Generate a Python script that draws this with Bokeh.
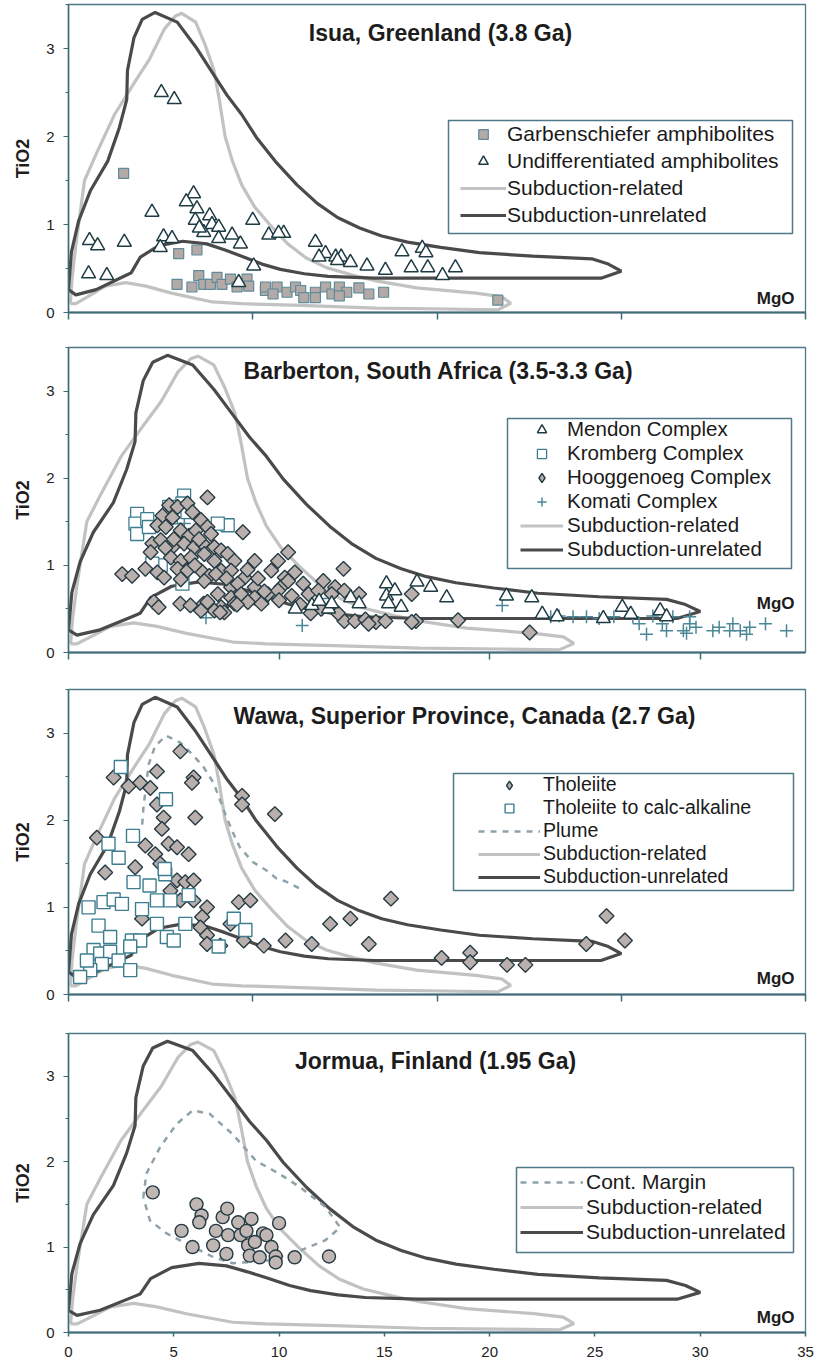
import numpy as np
from bokeh.plotting import figure
from bokeh.layouts import column
from bokeh.models import Range1d, FixedTicker, Label, Legend, LegendItem, BoxAnnotation
from bokeh.embed import file_html
from bokeh.resources import INLINE

FONT = "Liberation Sans"

# ---------------- reference fields (MgO, TiO2) ----------------
unrel_mgo = [0, 0.16, 0.55, 1.18, 2.13, 2.76, 3.16, 3.2, 3.55, 4.0, 4.7, 5.9, 6.9, 7.8, 8.6, 9.4, 10.2, 11.3,
             12.4, 13.5, 14.6, 15.8, 17.0, 18.4, 20.2, 22.3, 25.2, 28.4, 29.3, 30.0, 28.9, 25.0, 20.0, 16.6,
             14.1, 12.8, 11.5, 10.5, 9.4, 8.5, 7.5, 6.2, 4.9, 3.9, 3.4, 3.1, 1.5, 0.4, 0]
unrel_tio2 = [0.26, 0.69, 1.04, 1.38, 1.72, 2.1, 2.42, 2.75, 3.12, 3.33, 3.41, 3.3, 3.02, 2.73, 2.47, 2.25,
              1.99, 1.70, 1.45, 1.24, 1.08, 0.96, 0.87, 0.80, 0.74, 0.68, 0.64, 0.61, 0.55, 0.47, 0.39, 0.39,
              0.39, 0.39, 0.41, 0.44, 0.49, 0.55, 0.64, 0.71, 0.78, 0.81, 0.76, 0.63, 0.45, 0.42, 0.26, 0.2,
              0.26]

rel_mgo = [0.1, 0.2, 0.4, 0.87, 1.5, 2.5, 3.6, 4.4, 5.2, 5.8, 6.15, 6.9, 7.4, 7.9, 8.2, 8.5, 8.9, 9.4, 10.1,
           11.0, 11.9, 12.9, 14.0, 15.5, 16.7, 18.9, 22.1, 23.5, 24.0, 23.3, 20.5, 16.7, 12.6, 9.4, 7.8, 5.6,
           4.2, 3.1, 2.0, 0.89, 0.4, 0.1]
rel_tio2 = [0.1, 0.4, 0.77, 1.5, 1.8, 2.25, 2.62, 2.88, 3.22, 3.37, 3.4, 3.3, 3.05, 2.75, 2.4, 2.0, 1.72, 1.45,
            1.2, 0.98, 0.78, 0.62, 0.51, 0.42, 0.36, 0.28, 0.22, 0.18, 0.105, 0.03, 0.04, 0.05, 0.08, 0.1,
            0.12, 0.22, 0.3, 0.34, 0.3, 0.16, 0.1, 0.1]

plume_mgo = [4.0, 4.07, 4.35, 4.7, 5.3, 6.07, 6.7, 7.3, 7.87, 8.6, 9.05, 9.3, 10.0, 10.77, 11.3, 11.76, 12.7]
plume_tio2 = [1.95, 2.15, 2.64, 2.85, 2.97, 2.89, 2.76, 2.62, 2.43, 2.02, 1.8, 1.69, 1.52, 1.42, 1.33, 1.3, 1.2]

margin_mgo = [3.55, 3.7, 4.35, 5.13, 5.9, 6.7, 7.8, 8.9, 10.0, 11.0, 12.2, 12.9, 12.2, 11.0, 9.4, 7.8, 6.9,
              5.6, 4.66, 3.87, 3.55]
margin_tio2 = [1.58, 1.86, 2.17, 2.44, 2.6, 2.56, 2.32, 2.01, 1.86, 1.7, 1.47, 1.23, 1.08, 0.96, 0.84, 0.81,
               0.88, 1.04, 1.16, 1.31, 1.58]

# ---------------- Isua ----------------
isua_garb_mgo = [2.99, 5.98, 6.97, 5.89, 6.7, 7.07, 7.34, 7.7, 8.06, 8.33, 8.79, 9.15, 9.69, 9.78, 10.69, 11.32,
                 11.86, 12.32, 12.6, 12.77, 13.4, 13.4, 13.95, 14.3, 14.7, 15.1, 15.76, 16.3, 17.1, 10.69, 11.1,
                 14.7, 23.3]
isua_garb_tio2 = [1.58, 0.67, 0.71, 0.32, 0.29, 0.42, 0.32, 0.32, 0.40, 0.32, 0.38, 0.29, 0.38, 0.30, 0.25, 0.29,
                  0.23, 0.29, 0.25, 0.17, 0.23, 0.17, 0.29, 0.21, 0.29, 0.23, 0.28, 0.21, 0.23, 0.29, 0.21,
                  0.19, 0.14]
isua_und_mgo = [5.04, 5.74, 6.79, 6.39, 6.97, 4.53, 7.66, 6.88, 7.79, 8.15, 10.0, 7.34, 8.88, 8.15, 9.33, 10.87,
                11.68, 5.16, 5.62, 4.98, 1.14, 1.58, 3.03, 1.09, 2.08, 9.24, 10.05, 13.4, 13.95, 14.5, 14.8,
                13.6, 14.6, 15.3, 16.2, 17.2, 18.1, 19.2, 19.4, 18.6, 19.5, 20.3, 21.0, 11.4, 7.1]
isua_und_tio2 = [2.50, 2.42, 1.35, 1.26, 1.18, 1.14, 1.10, 1.05, 1.00, 0.97, 1.05, 0.91, 0.88, 0.84, 0.78, 0.88,
                 0.90, 0.86, 0.84, 0.74, 0.82, 0.76, 0.80, 0.44, 0.42, 0.34, 0.53, 0.80, 0.67, 0.63, 0.63,
                 0.63, 0.59, 0.57, 0.53, 0.48, 0.69, 0.73, 0.68, 0.51, 0.51, 0.42, 0.51, 0.90, 0.96]

# ---------------- Barberton ----------------
mendon_mgo = [10.77, 11.56, 12.35, 13.4, 13.8, 15.1, 15.1, 15.2, 15.5, 15.8, 16.55, 17.2, 17.96, 20.8, 22.0,
              22.5, 23.2, 25.4, 26.3, 26.7, 28.1, 28.4, 11.9, 12.5]
mendon_tio2 = [0.50, 0.54, 0.50, 0.63, 0.56, 0.79, 0.65, 0.56, 0.71, 0.52, 0.81, 0.75, 0.63, 0.65, 0.63,
               0.44, 0.41, 0.39, 0.52, 0.44, 0.48, 0.41, 0.59, 0.56]
kromberg_mgo = [3.26, 3.18, 3.26, 3.74, 3.82, 4.78, 5.49, 5.41, 5.65, 7.56, 7.09, 4.38, 3.98, 5.41, 4.86]
kromberg_tio2 = [1.59, 1.48, 1.36, 1.53, 1.44, 1.67, 1.80, 1.71, 1.61, 1.46, 1.48, 1.0, 1.02, 0.79, 1.55]
hoog_mgo = [6.6, 4.78, 5.18, 5.65, 4.46, 4.94, 5.89, 6.29, 6.6, 8.28, 4.22, 4.62, 5.33, 5.73, 6.05, 6.77,
            3.98, 4.38, 4.94, 5.49, 5.97, 6.37, 6.93, 7.25, 3.9, 4.86, 5.33, 5.81, 6.45, 6.93, 7.56, 7.88,
            8.84, 9.95, 10.43, 2.55, 3.02, 3.65, 4.22, 4.54, 5.18, 5.65, 6.29, 6.69, 7.25, 7.72, 8.36, 9.63,
            10.27, 10.75, 13.06, 5.33, 6.45, 7.72, 8.04, 8.84, 10.1, 10.43, 11.15, 12.1, 12.66, 7.09, 7.72,
            8.2, 8.84, 9.47, 9.95, 10.6, 11.4, 11.86, 12.5, 13.1, 13.8, 4.05, 4.28, 5.31, 5.79, 6.42, 6.6,
            7.25, 7.88, 8.52, 9.16, 6.93, 7.4, 7.2, 6.29, 13.1, 13.6, 14.1, 14.6, 15.05, 14.25, 16.5, 16.3,
            16.3, 18.5, 21.9, 6.0, 5.0, 4.6, 6.2, 7.0, 7.5, 8.5, 9.0, 9.3, 8.0, 10.0, 11.0, 12.0, 12.8, 11.5]
hoog_tio2 = [1.78, 1.69, 1.67, 1.71, 1.57, 1.55, 1.61, 1.52, 1.44, 1.38, 1.46, 1.44, 1.40, 1.34, 1.40, 1.36,
             1.25, 1.29, 1.21, 1.25, 1.21, 1.25, 1.21, 1.17, 1.15, 1.09, 1.05, 1.09, 1.13, 1.05, 1.13, 1.05,
             1.05, 1.05, 1.15, 0.90, 0.88, 0.96, 0.92, 0.86, 0.96, 0.94, 0.94, 0.88, 0.94, 0.94, 0.86, 0.94,
             0.86, 0.92, 0.96, 0.84, 0.82, 0.75, 0.79, 0.75, 0.75, 0.82, 0.79, 0.82, 0.75, 0.67, 0.63,
             0.67, 0.63, 0.67, 0.71, 0.65, 0.67, 0.71, 0.67, 0.71, 0.67, 0.58, 0.52, 0.56, 0.54, 0.56, 0.58,
             0.52, 0.56, 0.58, 0.56, 0.48, 0.46, 0.46, 0.48, 0.36, 0.36, 0.38, 0.35, 0.36, 0.33, 0.36, 0.67,
             0.35, 0.37, 0.23, 1.0, 1.3, 1.2, 1.3, 0.9, 0.85, 0.95, 0.85, 0.7, 0.55, 0.6, 0.55, 0.5, 0.45, 0.45]
komati_mgo = [6.53, 11.1, 20.6, 27.45, 28.2, 28.4, 29.2, 29.5, 29.35, 29.8, 30.6, 30.9, 31.4, 31.55, 32.2,
              32.35, 33.1, 34.1, 31.9, 22.9, 23.3, 23.96, 24.6, 25.2, 25.9, 26.8, 27.1, 27.75, 28.7, 29.5,
              4.0, 5.5, 9.5, 12.0]
komati_tio2 = [0.40, 0.31, 0.54, 0.21, 0.33, 0.25, 0.25, 0.33, 0.22, 0.29, 0.25, 0.29, 0.25, 0.33, 0.21,
               0.29, 0.33, 0.25, 0.25, 0.41, 0.42, 0.41, 0.41, 0.39, 0.41, 0.41, 0.33, 0.42, 0.41, 0.41,
               1.45, 1.48, 0.62, 0.62]

# ---------------- Wawa ----------------
thol_mgo = [6.07, 2.45, 3.26, 3.89, 4.44, 4.8, 6.79, 6.7, 4.8, 5.16, 5.07, 6.88, 9.42, 9.42, 11.2, 1.54, 4.17,
            4.71, 5.43, 5.89, 6.52, 1.99, 3.62, 4.98, 5.89, 6.34, 6.79, 5.53, 6.07, 6.79, 7.52, 7.25, 7.16,
            7.52, 7.52, 8.24, 8.79, 9.24, 9.87, 9.51, 10.6, 11.78, 13.2, 14.2, 15.3, 17.5, 16.3, 3.99, 20.25,
            21.8, 21.8, 23.8, 24.8, 28.1, 29.2, 30.2]
thol_tio2 = [2.79, 2.49, 2.39, 2.43, 2.37, 2.56, 2.49, 2.43, 2.18, 2.03, 1.90, 2.03, 2.28, 2.18, 2.07, 1.80, 1.71,
             1.61, 1.73, 1.69, 1.61, 1.40, 1.46, 1.50, 1.31, 1.29, 1.31, 1.19, 1.08, 1.08, 1.0, 0.89, 0.77,
             0.68, 0.58, 0.56, 0.81, 1.06, 1.08, 0.62, 0.56, 0.62, 0.58, 0.81, 0.87, 1.1, 0.58, 0.87, 0.42,
             0.48, 0.37, 0.34, 0.34, 0.58, 0.90, 0.62]
calc_mgo = [2.84, 5.29, 3.5, 2.17, 2.72, 3.53, 4.4, 5.25, 5.22, 1.09, 1.9, 2.45, 2.9, 3.99, 4.8, 5.53, 6.52,
            1.63, 2.26, 3.44, 3.89, 4.8, 6.34, 5.34, 5.71, 8.97, 9.6, 8.15, 3.35, 1.36, 1.72, 2.26, 2.72,
            1.81, 1.18, 0.63, 1.0, 3.35]
calc_tio2 = [2.61, 2.24, 1.82, 1.73, 1.57, 1.29, 1.25, 1.38, 1.44, 1.0, 1.06, 1.09, 1.04, 0.98, 1.08, 1.08, 1.14,
             0.79, 0.66, 0.62, 0.62, 0.81, 0.81, 0.66, 0.62, 0.87, 0.74, 0.55, 0.55, 0.51, 0.47, 0.49, 0.39,
             0.35, 0.28, 0.20, 0.39, 0.28]

# ---------------- Jormua ----------------
jor_mgo = [4.0, 6.08, 6.32, 6.21, 5.37, 5.89, 7.0, 6.87, 7.32, 7.54, 7.58, 7.5, 8.06, 8.17, 8.69, 8.53, 8.61,
           9.08, 9.24, 9.4, 9.64, 9.84, 9.84, 10.0, 10.74, 12.37, 8.45, 8.85]
jor_tio2 = [1.64, 1.50, 1.37, 1.29, 1.19, 1.0, 1.19, 1.02, 1.35, 1.45, 1.14, 0.92, 1.29, 1.14, 1.33, 1.02, 0.90,
            0.88, 1.16, 1.14, 1.0, 0.89, 0.82, 1.28, 0.88, 0.89, 1.19, 1.06]

titles = ["Isua, Greenland (3.8 Ga)", "Barberton, South Africa (3.5-3.3 Ga)",
          "Wawa, Superior Province, Canada (2.7 Ga)", "Jormua, Finland (1.95 Ga)"]

DARK = "#4a4a4a"
LIGHT = "#c2c2c2"
DASH = "#8fa2aa"
TEAL = "#3f6b79"
OUT = "#263b43"
GRAYFILL = "#b9afac"
BORDER = "#4f7888"


def make_fig(height, top, bottom, xmax, xticks, xlabels, title, tx, ty, mgo_y):
    p = figure(width=818, height=height, x_range=Range1d(0, xmax), y_range=Range1d(0, 3.5),
               output_backend="svg", toolbar_location=None,
               min_border_left=68, min_border_right=13, min_border_top=top, min_border_bottom=bottom)
    p.grid.visible = False
    p.outline_line_color = BORDER
    p.outline_line_width = 1.3
    p.background_fill_color = "white"
    p.border_fill_color = "white"
    ya = p.yaxis[0]
    ya.ticker = FixedTicker(ticks=[0, 1, 2, 3], minor_ticks=[0.5, 1.5, 2.5, 3.5])
    ya.axis_label = "TiO2"
    ya.axis_label_text_font = FONT
    ya.axis_label_text_font_style = "bold"
    ya.axis_label_text_font_size = "18px"
    ya.axis_label_text_color = "#1e1e1e"
    ya.axis_label_standoff = 10
    ya.major_label_text_font = FONT
    ya.major_label_text_font_size = "15px"
    ya.major_label_text_color = "#222222"
    ya.major_label_standoff = 9
    ya.major_tick_out = 5
    ya.major_tick_in = 0
    ya.minor_tick_out = 3
    ya.minor_tick_in = 0
    ya.axis_line_color = TEAL
    ya.axis_line_width = 1.5
    ya.major_tick_line_color = TEAL
    ya.minor_tick_line_color = TEAL
    xa = p.xaxis[0]
    xa.ticker = FixedTicker(ticks=xticks)
    xa.axis_line_color = TEAL
    xa.axis_line_width = 2
    xa.major_tick_line_color = TEAL
    xa.major_tick_line_width = 1.5
    xa.major_tick_in = 0
    xa.minor_tick_line_color = None
    if xlabels:
        xa.major_tick_out = 4
        xa.major_label_text_font = FONT
        xa.major_label_text_font_size = "15px"
        xa.major_label_text_color = "#222222"
        xa.major_label_standoff = 10
    else:
        xa.major_tick_out = 7
        xa.major_label_text_font_size = "1px"
        xa.major_label_text_color = None
        xa.major_label_standoff = 0
    p.add_layout(Label(x=tx, y=ty, x_units="screen", y_units="screen", text=title,
                       text_font=FONT, text_font_style="bold", text_font_size="23px",
                       text_color="#1c1c1c", text_align="center", text_baseline="middle"))
    p.add_layout(Label(x=726, y=mgo_y, x_units="screen", y_units="screen", text="MgO",
                       text_font=FONT, text_font_style="bold", text_font_size="17px",
                       text_color="#1c1c1c", text_align="right", text_baseline="alphabetic"))
    return p


def fields(p):
    rel = p.line(rel_mgo, rel_tio2, line_color=LIGHT, line_width=3.2)
    unrel = p.line(unrel_mgo, unrel_tio2, line_color=DARK, line_width=3.2)
    return rel, unrel


def diamond_key(p, xs, ys):
    # legend-only key (the legend ignores marker angles): same data, diamond marker, hidden on the plot
    return p.scatter(xs, ys, marker="diamond", size=12, fill_color=GRAYFILL, line_color=OUT,
                     line_width=1.4, visible=False)


def add_legend(p, items, box, loc, font_size, row_h, spacing, glyph_w, standoff):
    l, r, b, t = box
    p.add_layout(BoxAnnotation(left=l, right=r, bottom=b, top=t, left_units="screen", right_units="screen",
                               bottom_units="screen", top_units="screen", fill_color="white", fill_alpha=1.0,
                               line_color=BORDER, line_width=1.5, line_alpha=1.0))
    lg = Legend(items=items, location=loc, label_text_font=FONT, label_text_font_size=font_size,
                label_text_color="#1a1a1a", padding=0, spacing=spacing, margin=0,
                glyph_width=glyph_w, glyph_height=row_h, label_height=row_h, label_standoff=standoff,
                border_line_color=None, background_fill_alpha=0.0, inactive_fill_alpha=0.0,
                click_policy="none")
    p.add_layout(lg)


# ---------- panel 1 ----------
p1 = make_fig(330, 4, 18, 40, [0, 10, 20, 30, 40], False, titles[0], 372, 280, 14)
r1, u1 = fields(p1)
g1 = p1.scatter(isua_garb_mgo, isua_garb_tio2, marker="square", size=10, fill_color="#b3aaa7",
                line_color="#5f8a98", line_width=1.2)
t1 = p1.scatter(isua_und_mgo, isua_und_tio2, marker="triangle", size=14, fill_color="white",
                line_color="#1f3c45", line_width=1.5)
add_legend(p1, [LegendItem(label="Garbenschiefer amphibolites", renderers=[g1]),
                LegendItem(label="Undifferentiated amphibolites", renderers=[t1]),
                LegendItem(label="Subduction-related", renderers=[r1]),
                LegendItem(label="Subduction-unrelated", renderers=[u1])],
           (380, 724, 79, 192), (392, 85), "21px", 24, 3, 46, 1)

# ---------- panel 2 ----------
p2 = make_fig(342, 17, 20, 35, [0, 10, 20, 30], False, titles[1], 370, 282, 49)
r2, u2 = fields(p2)
k2 = p2.scatter(komati_mgo, komati_tio2, marker="cross", size=13, line_color="#4c8798", line_width=1.5)
s2 = p2.scatter(kromberg_mgo, kromberg_tio2, marker="square", size=13, fill_color="white",
                line_color="#3d7d8f", line_width=1.3)
d2 = p2.scatter(hoog_mgo, hoog_tio2, marker="square", size=10.5, angle=np.pi / 4, fill_color=GRAYFILL,
                line_color=OUT, line_width=1.4)
m2 = p2.scatter(mendon_mgo, mendon_tio2, marker="triangle", size=14, fill_color="white",
                line_color="#1f3c45", line_width=1.5)
dk2 = diamond_key(p2, hoog_mgo, hoog_tio2)
add_legend(p2, [LegendItem(label="Mendon Complex", renderers=[m2]),
                LegendItem(label="Kromberg Complex", renderers=[s2]),
                LegendItem(label="Hooggenoeg Complex", renderers=[dk2]),
                LegendItem(label="Komati Complex", renderers=[k2]),
                LegendItem(label="Subduction-related", renderers=[r2]),
                LegendItem(label="Subduction-unrelated", renderers=[u2])],
           (439, 723, 84, 234), (452, 91), "20.5px", 23, 0, 43, 4)

# ---------- panel 3 ----------
p3 = make_fig(342, 17, 20, 40, [0, 10, 20, 30, 40], False, titles[2], 396, 279, 16)
r3, u3 = fields(p3)
pl3 = p3.line(plume_mgo, plume_tio2, line_color=DASH, line_width=2.5, line_dash="6 6")
d3 = p3.scatter(thol_mgo, thol_tio2, marker="square", size=10.5, angle=np.pi / 4, fill_color=GRAYFILL,
                line_color=OUT, line_width=1.4)
s3 = p3.scatter(calc_mgo, calc_tio2, marker="square", size=13, fill_color="white",
                line_color="#3d7d8f", line_width=1.4)
dk3 = diamond_key(p3, thol_mgo, thol_tio2)
add_legend(p3, [LegendItem(label="Tholeiite", renderers=[dk3]),
                LegendItem(label="Tholeiite to calc-alkaline", renderers=[s3]),
                LegendItem(label="Plume", renderers=[pl3]),
                LegendItem(label="Subduction-related", renderers=[r3]),
                LegendItem(label="Subduction-unrelated", renderers=[u3])],
           (385, 725, 104, 221), (410, 106), "19.5px", 22, 0, 62, 3)

# ---------- panel 4 ----------
p4 = make_fig(348, 19, 30, 35, [0, 5, 10, 15, 20, 25, 30, 35], True, titles[3], 367, 272, 15)
r4, u4 = fields(p4)
cm4 = p4.line(margin_mgo, margin_tio2, line_color=DASH, line_width=2.5, line_dash="6 6")
c4 = p4.scatter(jor_mgo, jor_tio2, marker="circle", size=13, fill_color="#c0b6b3",
                line_color=OUT, line_width=1.4)
add_legend(p4, [LegendItem(label="Cont. Margin", renderers=[cm4]),
                LegendItem(label="Subduction-related", renderers=[r4]),
                LegendItem(label="Subduction-unrelated", renderers=[u4])],
           (448, 725, 80, 165), (452, 88), "21px", 24, 1, 63, 3)

layout = column(p1, p2, p3, p4, spacing=0)
open("out.html", "w").write(file_html(layout, INLINE))
